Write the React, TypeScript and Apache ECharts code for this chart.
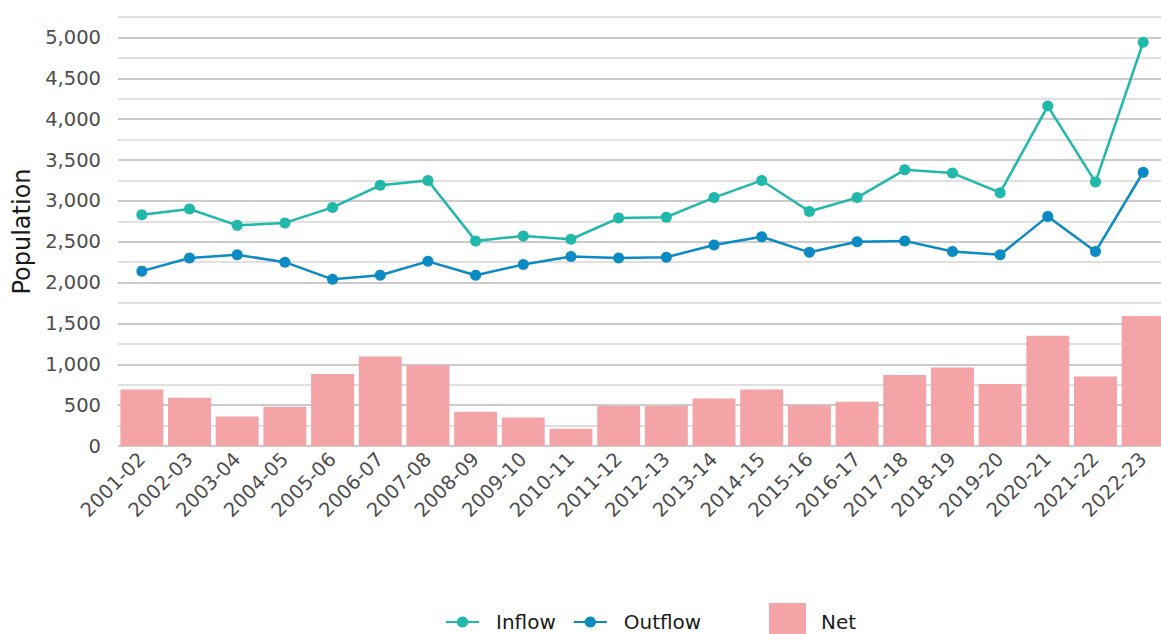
import React, { useEffect, useRef } from "react";
import * as echarts from "echarts";

const categories = [
  "2001-02", "2002-03", "2003-04", "2004-05", "2005-06", "2006-07", "2007-08", "2008-09",
  "2009-10", "2010-11", "2011-12", "2012-13", "2013-14", "2014-15", "2015-16", "2016-17",
  "2017-18", "2018-19", "2019-20", "2020-21", "2021-22", "2022-23",
];
const inflow = [2830, 2900, 2700, 2730, 2920, 3190, 3250, 2510, 2570, 2530, 2790, 2800, 3040, 3250, 2870, 3040, 3380, 3340, 3100, 4160, 3230, 4940];
const outflow = [2140, 2300, 2340, 2250, 2040, 2090, 2260, 2090, 2220, 2320, 2300, 2310, 2460, 2560, 2370, 2500, 2510, 2380, 2340, 2810, 2380, 3350];
const net = [690, 590, 360, 480, 880, 1095, 990, 420, 350, 210, 490, 490, 580, 690, 500, 540, 870, 960, 760, 1350, 850, 1590];

const FONT = "DejaVu Sans";

export default function App() {
  const ref = useRef<HTMLDivElement>(null);
  useEffect(() => {
    if (!ref.current) return;
    const chart = echarts.init(ref.current, undefined, { renderer: "svg" });
    chart.setOption({
      animation: false,
      backgroundColor: "#ffffff",
      textStyle: { fontFamily: FONT },
      grid: { left: 118, right: 0, top: 17, bottom: 188, containLabel: false },
      legend: [
        {
          data: ["Inflow", "Outflow"],
          left: 445,
          top: 612,
          padding: 0,
          itemWidth: 33,
          itemHeight: 14,
          itemGap: 17,
          textStyle: { fontFamily: FONT, fontSize: 20, lineHeight: 20, color: "#1a1a1a", padding: [0, 0, 0, 12] },
        },
        {
          data: ["Net"],
          left: 769,
          top: 603,
          padding: 0,
          icon: "rect",
          itemWidth: 37,
          itemHeight: 38,
          textStyle: { fontFamily: FONT, fontSize: 20, lineHeight: 20, color: "#1a1a1a", padding: [0, 0, 0, 10] },
        },
      ],
      xAxis: {
        type: "category",
        data: categories,
        axisLine: { show: false },
        axisTick: { show: false },
        axisLabel: {
          rotate: 45,
          margin: 10,
          fontFamily: FONT,
          fontSize: 19.5,
          color: "#4d4d4d",
          interval: 0,
        },
      },
      yAxis: {
        type: "value",
        min: 0,
        max: 5250,
        interval: 250,
        name: "Population",
        nameLocation: "middle",
        nameRotate: 90,
        nameGap: 84,
        nameTextStyle: { fontFamily: FONT, fontSize: 24, color: "#1a1a1a" },
        axisLine: { show: false },
        axisTick: { show: false },
        axisLabel: {
          margin: 17,
          fontFamily: FONT,
          fontSize: 19.5,
          color: "#4d4d4d",
          formatter: (v: number) => (v % 500 === 0 ? v.toLocaleString("en-US") : ""),
        },
        splitLine: { show: true, lineStyle: { color: ["#bababa", "#d6d6d6"], width: 1.7 } },
      },
      series: [
        {
          name: "Net",
          type: "bar",
          data: net,
          barCategoryGap: "10%",
          itemStyle: { color: "#f4a3a7" },
          z: 1,
        },
        {
          name: "Inflow",
          type: "line",
          data: inflow,
          symbol: "circle",
          symbolSize: 11,
          lineStyle: { width: 2.5, color: "#1fb8aa" },
          itemStyle: { color: "#1fb8aa" },
          z: 3,
        },
        {
          name: "Outflow",
          type: "line",
          data: outflow,
          symbol: "circle",
          symbolSize: 11,
          lineStyle: { width: 2.5, color: "#0b8ac3" },
          itemStyle: { color: "#0b8ac3" },
          z: 3,
        },
      ],
    });
    return () => chart.dispose();
  }, []);
  return (
    <div style={{ position: "fixed", left: 0, top: 0, width: 1161, height: 634, overflow: "hidden", background: "#fff" }}>
      <div ref={ref} style={{ width: 1167, height: 634 }} />
    </div>
  );
}
